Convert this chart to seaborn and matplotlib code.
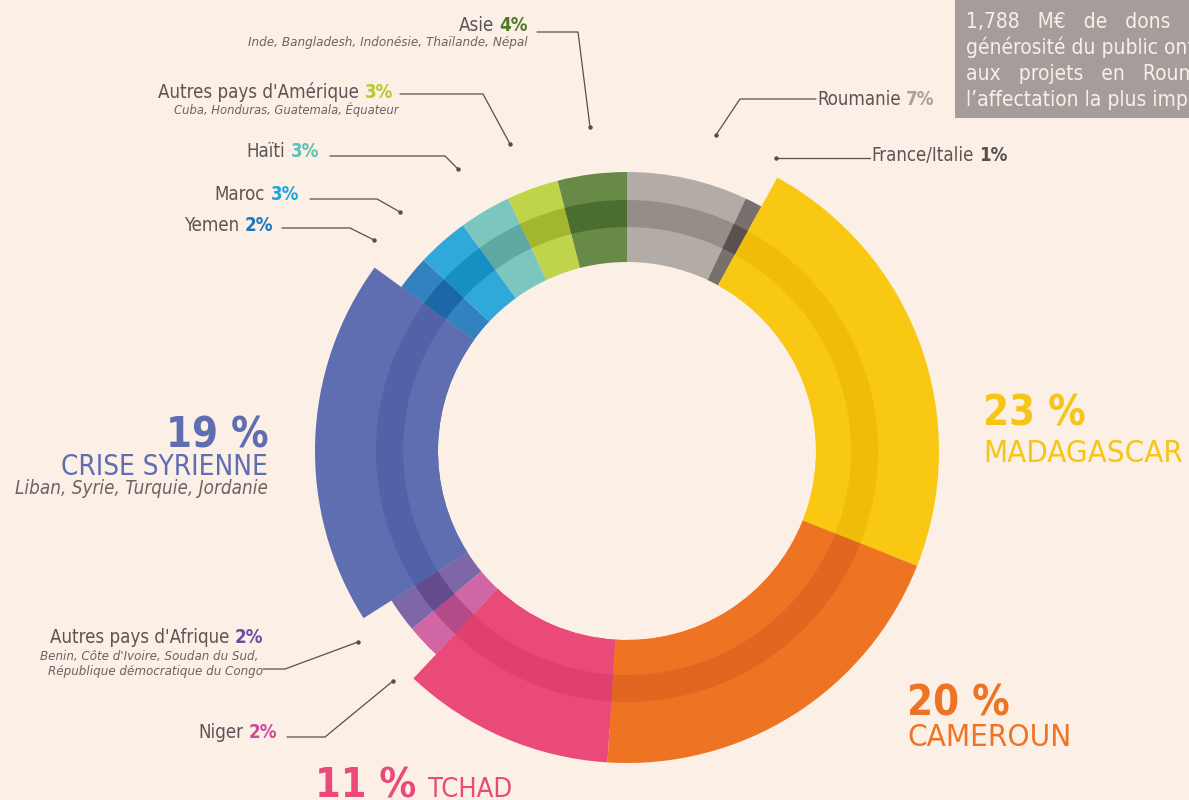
import matplotlib
matplotlib.use("Agg")
import matplotlib.pyplot as plt
from matplotlib.patches import Rectangle
import seaborn as sns

# share of donations by destination, clockwise from 12 o'clock
regions = ["Roumanie", "France/Italie", "Madagascar", "Cameroun", "Tchad", "Niger",
           "Autres pays d'Afrique", "Crise syrienne", "Yemen", "Maroc", "Haïti",
           "Autres pays d'Amérique", "Asie"]
shares = [7, 1, 23, 20, 11, 2, 2, 19, 2, 3, 3, 3, 4]
big_regions = ["Madagascar", "Cameroun", "Tchad", "Crise syrienne"]

light = ["#b3aba6", "#77706c", "#f8c812", "#ee7424", "#ea4a78", "#d066a4",
         "#7e67a6", "#5f6db1", "#3282c0", "#2fa8da", "#7bc6bd", "#c0d44a", "#678a47"]
dark = ["#968c88", "#5a504e", "#efbc0a", "#e2661f", "#e0406e", "#b44a88",
        "#644a8e", "#5262a8", "#1c68a6", "#168fc2", "#5ea9a4", "#a2b630", "#4a6e2f"]

BG = "#fcefe6"
GREY = "#5a5656"
W, H = 1189, 800

sns.set_theme(style="white", rc={"axes.facecolor": BG, "figure.facecolor": BG})
plt.rcParams['font.family'] = ['DejaVu Sans']
plt.rcParams['font.stretch'] = 'condensed'

fig = plt.figure(figsize=(W / 100, H / 100), dpi=100)
ax = fig.add_axes([0, 0, 1, 1])
cx, cy = 627, H - 451


def Y(y):
    return H - y


def ring(radius, width, colors):
    ax.pie(shares, colors=colors, radius=radius, center=(cx, cy), startangle=90,
           counterclock=False, wedgeprops=dict(width=width, linewidth=0))


ring(279, 90, light)
ring(312, 123, [c if r in big_regions else "none" for r, c in zip(regions, light)])
ring(251, 27, dark)

ax.set_xlim(0, W)
ax.set_ylim(0, H)
ax.set_aspect("equal")
ax.axis("off")


def leader(pts):
    xs = [p[0] for p in pts]
    ys = [Y(p[1]) for p in pts]
    ax.plot(xs, ys, color="#555050", lw=0.9)
    ax.plot(xs[-1], ys[-1], "o", color="#555050", ms=2.2)


def label_right(x, y, name, pct, color, size=13.4):
    t = ax.text(x, Y(y), pct, ha="right", va="baseline", color=color,
                fontweight="bold", fontsize=size)
    ax.annotate(name, xy=(0, 0), xycoords=t, xytext=(-4, 0), textcoords="offset points",
                ha="right", va="bottom", color=GREY, fontsize=size)


def label_left(x, y, name, pct, color, size=13.4):
    t = ax.text(x, Y(y), name, ha="left", va="baseline", color=GREY, fontsize=size)
    ax.annotate(pct, xy=(1, 0), xycoords=t, xytext=(4, 0), textcoords="offset points",
                ha="left", va="bottom", color=color, fontweight="bold", fontsize=size)


def sub(x, y, s, size=9.4, ha="right"):
    ax.text(x, Y(y), s, ha=ha, va="baseline", color="#6a6464", fontsize=size, style="italic")


# small destinations
label_right(528, 31, "Asie", "4%", "#4f7a2c")
sub(528, 46, "Inde, Bangladesh, Indonésie, Thaïlande, Népal", size=9.6)
leader([(537, 32), (578, 32), (590, 127)])

label_right(393, 98, "Autres pays d'Amérique", "3%", "#b3cc2e")
sub(399, 114, "Cuba, Honduras, Guatemala, Équateur", size=9.3)
leader([(400, 94), (483, 94), (510, 144)])

label_right(319, 157, "Haïti", "3%", "#5fc0b5")
leader([(330, 156), (445, 156), (458, 169)])

label_right(299, 200, "Maroc", "3%", "#1ea3dc")
leader([(310, 199), (377, 199), (400, 212)])

label_right(273, 231, "Yemen", "2%", "#1f74bb")
leader([(282, 228), (350, 228), (374, 240)])

label_left(817, 105, "Roumanie", "7%", "#aaa19c")
leader([(816, 99), (740, 99), (716, 135)])

label_left(871, 161, "France/Italie", "1%", "#555050")
leader([(870, 158), (776, 158)])

label_right(263, 643, "Autres pays d'Afrique", "2%", "#6a4da0")
sub(258, 660, "Benin, Côte d'Ivoire, Soudan du Sud,", size=9.5)
sub(263, 675, "République démocratique du Congo", size=9.5)
leader([(263, 669), (285, 669), (358, 642)])

label_right(277, 738, "Niger", "2%", "#cc4a9c")
leader([(287, 737), (325, 737), (393, 681)])

# big destinations
ax.text(268, Y(448), "19 %", ha="right", va="baseline", color="#5f6db1",
        fontsize=30, fontweight="bold")
ax.text(268, Y(475), "CRISE SYRIENNE", ha="right", va="baseline", color="#5f6db1", fontsize=20)
sub(268, 494, "Liban, Syrie, Turquie, Jordanie", size=13.5)

ax.text(983, Y(426), "23 %", ha="left", va="baseline", color="#f5c518",
        fontsize=30, fontweight="bold")
ax.text(983, Y(462), "MADAGASCAR", ha="left", va="baseline", color="#f5c518", fontsize=22.4)

ax.text(907, Y(716), "20 %", ha="left", va="baseline", color="#ee7424",
        fontsize=30, fontweight="bold")
ax.text(907, Y(746), "CAMEROUN", ha="left", va="baseline", color="#ee7424", fontsize=22.5)

ax.text(315, Y(797), "11 %", ha="left", va="baseline", color="#ea4a78",
        fontsize=29.5, fontweight="bold")
ax.text(428, Y(797), "TCHAD", ha="left", va="baseline", color="#ea4a78", fontsize=19.5)

# note box (cut by the right edge)
ax.add_patch(Rectangle((955, Y(118)), 300, 130, color="#a49d9a", lw=0))
box_lines = ["1,788   M€   de   dons   issus   de   la",
             "générosité du public ont été affectés",
             "aux   projets   en   Roumanie,   soit",
             "l\u2019affectation la plus importante"]
for i, line in enumerate(box_lines):
    ax.text(966, Y(28 + 26 * i), line, ha="left", va="baseline", color="#f8efe9", fontsize=15)

fig.savefig("out.png", dpi=100, facecolor=BG)
